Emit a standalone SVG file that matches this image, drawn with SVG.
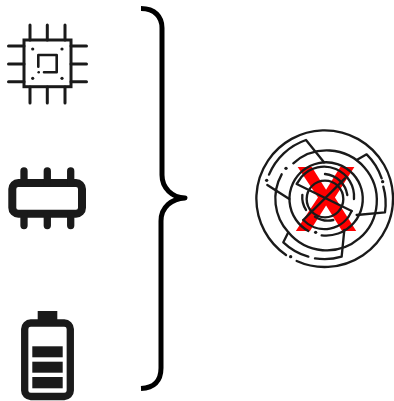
<svg xmlns="http://www.w3.org/2000/svg" width="394" height="401" viewBox="0 0 394 401">
<style>
.l{fill:none;stroke:#1a1a1a;stroke-linecap:round;stroke-linejoin:round}
.f{fill:#1a1a1a}
.m{fill:none;stroke:#1a1a1a;stroke-width:7;stroke-linecap:round;stroke-linejoin:round}
</style>
<rect width="394" height="401" fill="#fff"/>
<g id="chip">
<rect x="24" y="40" width="47" height="46.700" fill="none" stroke="#1a1a1a" stroke-width="3"/>
<path class="l" stroke-width="3" d="M30 25V40M47.300 25V40M65 25V40M30 87V103M47.300 87V103M65 87V103M8.500 46H24M8.500 64H24M8.500 81.700H24M71 46H86.500M71 64H86.500M71 81.700H86.500"/>
<path class="l" stroke-width="2.600" d="M38.300 66.700V55H56.700V72.300H44"/>
<circle class="f" cx="32.700" cy="49" r="1.600"/><circle class="f" cx="62" cy="49" r="1.600"/><circle class="f" cx="32.700" cy="78.300" r="1.600"/><circle class="f" cx="62" cy="78.300" r="1.600"/><circle class="f" cx="38.700" cy="72.300" r="1.300"/>
</g>
<g id="memory">
<rect x="12.300" y="183" width="69.700" height="30.700" rx="6" fill="none" stroke="#1a1a1a" stroke-width="8"/>
<path class="l" stroke-width="7.300" d="M24 171V183M47.300 171V183M70.700 171V183M24 214V225.500M47.300 214V225.500M70.700 214V225.500"/>
</g>
<g id="battery">
<rect x="24.700" y="323" width="45.600" height="73.500" rx="6" fill="none" stroke="#1a1a1a" stroke-width="7.300"/>
<rect class="f" x="37.700" y="311" width="19.600" height="10"/>
<rect class="f" x="32.300" y="346.300" width="30.400" height="11"/>
<rect class="f" x="32.300" y="361.700" width="30.400" height="11"/>
<rect class="f" x="32.300" y="377" width="30.400" height="11.300"/>
</g>
<g id="connectors">
<path fill="none" stroke="#000" stroke-width="5" stroke-linecap="butt" stroke-linejoin="round" d="M141 8.500C155 8.500 162 17 162 28V175C162 188 172 197.500 185 198C172 198.500 161 207 161 221V368C161 381 154 388 141 388.500"/>
</g>
<g id="maze">
<text x="326" y="231" font-family="'Liberation Sans',Arial,sans-serif" font-weight="700" font-size="93" text-anchor="middle" fill="#f00">X</text>
<g transform="translate(250 125) scale(.3333)">
<path class="m" d="M108 390A205 205 0 1 1 140 408"/>
<circle class="f" cx="122" cy="395" r="5"/>
<path class="m" d="M57 149A185 185 0 0 1 168 45L222 112"/>
<circle class="f" cx="50" cy="166" r="5"/><circle class="f" cx="108" cy="130" r="5"/>
<path class="m" d="M320 105L350 88A183 183 0 0 1 395 160"/>
<circle class="f" cx="398" cy="170" r="5"/>
<path class="m" d="M400 185A180 180 0 0 1 405 262L320 270"/>
<path class="m" d="M283 315L275 395A180 180 0 0 1 195 400"/>
<path class="m" d="M115 322L100 352A180 180 0 0 0 175 395"/>
<path class="m" d="M52 180L118 222"/>
<path class="m" d="M95 148A150 150 0 0 0 115 322A150 150 0 1 0 130 115"/>
<path class="m" d="M175 318A110 110 0 1 1 215 331"/>
<circle class="f" cx="197" cy="322" r="5"/>
<path class="m" d="M305 258L140 177L155 155A90 90 0 0 1 312 222"/>
<path class="m" d="M305 258A88 88 0 0 1 160 285"/>
<path class="m" d="M225 147A75 75 0 0 1 292 210"/>
<path class="m" d="M157 210A72 72 0 0 0 168 255"/>
<path class="m" d="M195 275A72 72 0 0 0 250 285"/>
<circle class="m" cx="225" cy="222" r="55"/>
<path class="m" d="M160 285L285 160"/>
</g>
</g>
</svg>
